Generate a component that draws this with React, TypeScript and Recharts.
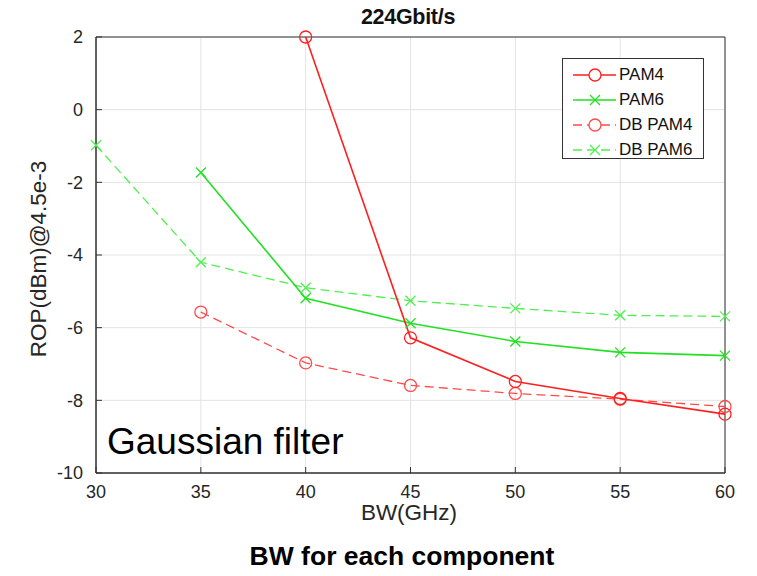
import React from 'react';
import { LineChart, Line, XAxis, YAxis, CartesianGrid, ReferenceArea } from 'recharts';

const bandwidths = [30, 35, 40, 45, 50, 55, 60];
const pam4: (number | null)[] = [null, null, 2.0, -6.28, -7.48, -7.95, -8.38];
const pam6: (number | null)[] = [null, -1.73, -5.19, -5.88, -6.38, -6.68, -6.77];
const dbPam4: (number | null)[] = [null, -5.57, -6.97, -7.59, -7.81, -7.97, -8.17];
const dbPam6: (number | null)[] = [-0.98, -4.2, -4.9, -5.26, -5.47, -5.66, -5.69];
const xTicks = [30, 35, 40, 45, 50, 55, 60];
const yTicks = [2, 0, -2, -4, -6, -8, -10];
const seriesNames = ['PAM4', 'PAM6', 'DB PAM4', 'DB PAM6'];

const data = bandwidths.map((bw, i) => ({
  bw,
  pam4: pam4[i],
  pam6: pam6[i],
  dbPam4: dbPam4[i],
  dbPam6: dbPam6[i],
}));

const RED = '#ff1f1f';
const GREEN = '#22e022';
const RED_D = '#ff4a4a';
const GREEN_D = '#4ef04e';

const FONT = '"Liberation Sans", Arial, sans-serif';

const circleDot = (color: string) => (props: any) => {
  const { cx, cy, index } = props;
  if (cx == null || cy == null || props.value == null) return <g key={index} />;
  return <circle key={index} cx={cx} cy={cy} r={6} fill="none" stroke={color} strokeWidth={1.3} />;
};

const crossDot = (color: string) => (props: any) => {
  const { cx, cy, index } = props;
  if (cx == null || cy == null || props.value == null) return <g key={index} />;
  const s = 5;
  return (
    <g key={index} stroke={color} strokeWidth={1.3}>
      <line x1={cx - s} y1={cy - s} x2={cx + s} y2={cy + s} />
      <line x1={cx - s} y1={cy + s} x2={cx + s} y2={cy - s} />
    </g>
  );
};

const legendItems = [
  { name: seriesNames[0], color: RED, dash: undefined, marker: 'o' },
  { name: seriesNames[1], color: GREEN, dash: undefined, marker: 'x' },
  { name: seriesNames[2], color: RED_D, dash: '9 5', marker: 'o' },
  { name: seriesNames[3], color: GREEN_D, dash: '9 5', marker: 'x' },
];

export default function App() {
  return (
    <div style={{ position: 'absolute', left: 0, top: 0, width: 757, height: 576, background: '#fff', fontFamily: FONT }}>
      <LineChart
        width={757}
        height={576}
        data={data}
        margin={{ top: 37, right: 32, bottom: 73, left: 56 }}
      >
        <CartesianGrid stroke="#e3e3e3" strokeWidth={1} />
        <XAxis
          dataKey="bw"
          type="number"
          domain={[30, 60]}
          ticks={xTicks}
          height={30}
          tickSize={-6}
          tickMargin={18}
          axisLine={{ stroke: '#333' }}
          tickLine={{ stroke: '#333' }}
          tick={{ fill: '#262626', fontSize: 18, fontFamily: FONT }}
        />
        <YAxis
          type="number"
          domain={[-10, 2]}
          ticks={yTicks}
          width={40}
          tickSize={-6}
          tickMargin={19}
          axisLine={{ stroke: '#333' }}
          tickLine={{ stroke: '#333' }}
          interval={0}
          tick={{ fill: '#262626', fontSize: 18, fontFamily: FONT }}
        />
        <ReferenceArea x1={30} x2={60} y1={-10} y2={2} fill="none" fillOpacity={0} stroke="#333" strokeWidth={1} />
        <Line dataKey="dbPam6" name={seriesNames[3]} stroke={GREEN_D} strokeWidth={1.3} strokeDasharray="9 5" dot={crossDot(GREEN_D)} isAnimationActive={false} />
        <Line dataKey="dbPam4" name={seriesNames[2]} stroke={RED_D} strokeWidth={1.3} strokeDasharray="9 5" dot={circleDot(RED_D)} isAnimationActive={false} />
        <Line dataKey="pam6" name={seriesNames[1]} stroke={GREEN} strokeWidth={1.6} dot={crossDot(GREEN)} isAnimationActive={false} />
        <Line dataKey="pam4" name={seriesNames[0]} stroke={RED} strokeWidth={1.6} dot={circleDot(RED)} isAnimationActive={false} />
      </LineChart>

      {/* Title */}
      <div style={{ position: 'absolute', left: 258, width: 300, top: 5, textAlign: 'center', fontWeight: 'bold', fontSize: 21.5, color: '#111', letterSpacing: -0.3 }}>
        224Gbit/s
      </div>

      {/* Y label */}
      <div style={{ position: 'absolute', left: 39, top: 259, width: 0, height: 0 }}>
        <div style={{ position: 'absolute', transform: 'translate(-50%, -50%) rotate(-90deg)', whiteSpace: 'nowrap', fontSize: 22.5, color: '#262626' }}>
          ROP(dBm)@4.5e-3
        </div>
      </div>

      {/* X label */}
      <div style={{ position: 'absolute', left: 259, width: 300, top: 500, textAlign: 'center', fontSize: 22.5, color: '#262626' }}>
        BW(GHz)
      </div>

      {/* Caption */}
      <div style={{ position: 'absolute', left: 152, width: 500, top: 541, textAlign: 'center', fontWeight: 'bold', fontSize: 26.5, color: '#000' }}>
        BW for each component
      </div>

      {/* Gaussian filter */}
      <div style={{ position: 'absolute', left: 107, top: 421, fontSize: 37, color: '#000' }}>
        Gaussian filter
      </div>

      {/* Legend */}
      <div style={{ position: 'absolute', left: 562, top: 58, width: 140, height: 99, border: '1px solid #333', background: '#fff' }}>
        {legendItems.map((it, i) => (
          <div key={it.name} style={{ position: 'absolute', left: 0, top: 4 + i * 25, height: 24, display: 'flex', alignItems: 'center' }}>
            <svg width={56} height={24} style={{ display: 'block' }}>
              <line x1={10} y1={12} x2={53} y2={12} stroke={it.color} strokeWidth={1.4} strokeDasharray={it.dash} />
              {it.marker === 'o' ? (
                <circle cx={32} cy={12} r={6} fill="#fff" stroke={it.color} strokeWidth={1.3} />
              ) : (
                <g stroke={it.color} strokeWidth={1.3}>
                  <line x1={27} y1={7} x2={37} y2={17} />
                  <line x1={27} y1={17} x2={37} y2={7} />
                </g>
              )}
            </svg>
            <span style={{ fontSize: 17, color: '#111' }}>{it.name}</span>
          </div>
        ))}
      </div>
    </div>
  );
}
